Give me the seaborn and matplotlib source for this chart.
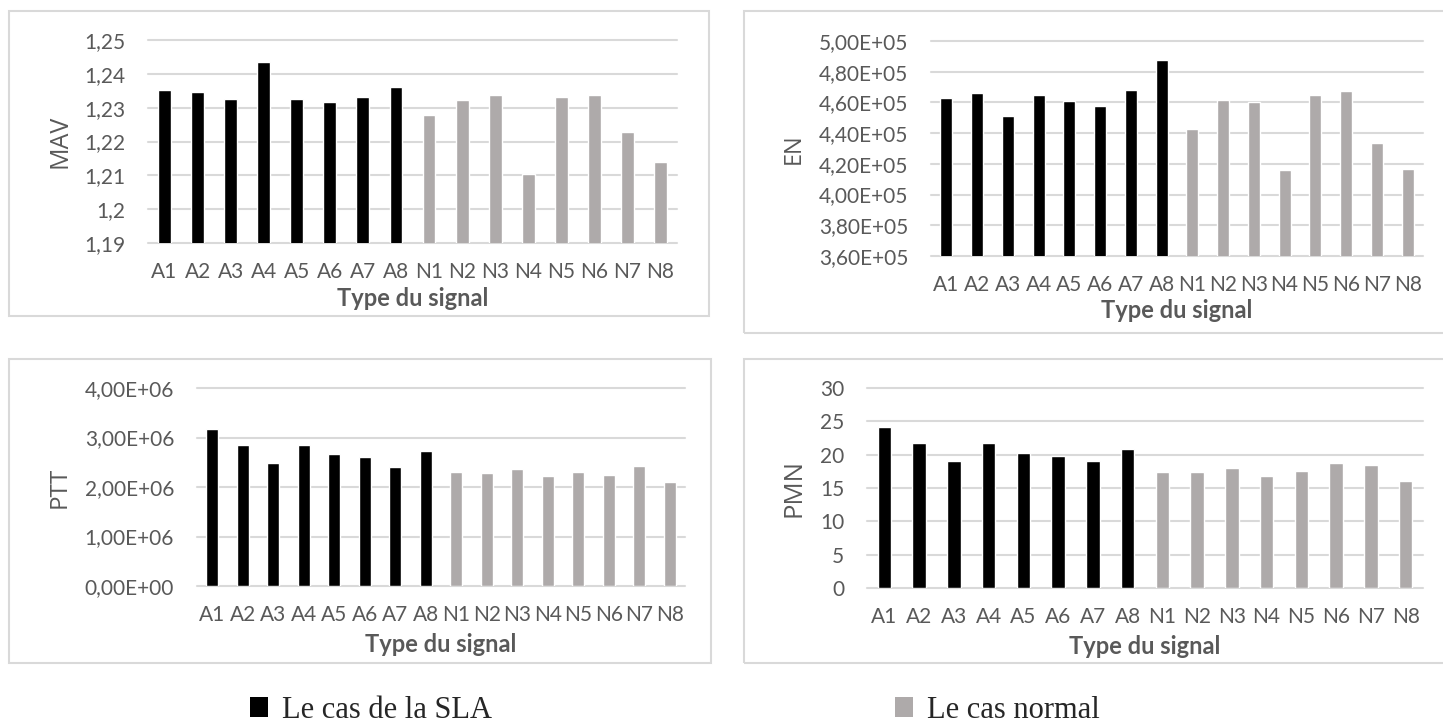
import matplotlib
matplotlib.use("Agg")
import matplotlib.pyplot as plt
from matplotlib.patches import Rectangle, Patch
import seaborn as sns
import pandas as pd

# ---- data -------------------------------------------------------------
signals = ["A1", "A2", "A3", "A4", "A5", "A6", "A7", "A8",
           "N1", "N2", "N3", "N4", "N5", "N6", "N7", "N8"]
groups = ["SLA"] * 8 + ["Normal"] * 8

mav = [1.2351, 1.2346, 1.2327, 1.2434, 1.2327, 1.2316, 1.2333, 1.2360,
       1.2277, 1.2323, 1.2337, 1.2103, 1.2332, 1.2336, 1.2227, 1.2140]
en = [462700, 466400, 451200, 465100, 461000, 457700, 468300, 487800,
      442800, 461800, 460100, 416100, 464700, 467700, 433500, 416800]
ptt = [3.169e6, 2.845e6, 2.486e6, 2.851e6, 2.662e6, 2.601e6, 2.399e6, 2.736e6,
       2.297e6, 2.277e6, 2.365e6, 2.216e6, 2.297e6, 2.236e6, 2.426e6, 2.101e6]
pmn = [24.2, 21.7, 19.0, 21.75, 20.25, 19.85, 19.0, 20.85,
       17.45, 17.35, 18.05, 16.85, 17.5, 18.7, 18.5, 16.05]

mav_ticks = [1.19, 1.20, 1.21, 1.22, 1.23, 1.24, 1.25]
mav_tick_labels = ["1,19", "1,2", "1,21", "1,22", "1,23", "1,24", "1,25"]
en_ticks = [360000, 380000, 400000, 420000, 440000, 460000, 480000, 500000]
en_tick_labels = ["3,60E+05", "3,80E+05", "4,00E+05", "4,20E+05",
                  "4,40E+05", "4,60E+05", "4,80E+05", "5,00E+05"]
ptt_ticks = [0, 1e6, 2e6, 3e6, 4e6]
ptt_tick_labels = ["0,00E+00", "1,00E+06", "2,00E+06", "3,00E+06", "4,00E+06"]
pmn_ticks = [0, 5, 10, 15, 20, 25, 30]
pmn_tick_labels = ["0", "5", "10", "15", "20", "25", "30"]

legend_labels = ["Le cas de la SLA", "Le cas normal"]

# ---- style ------------------------------------------------------------
sns.set_style("white")
plt.rcParams["font.family"] = ["Lato", "DejaVu Sans"]

TEXT = "#595959"
GRID = "#D9D9D9"
palette = {"SLA": "#000000", "Normal": "#AEAAAA"}

W, H = 1443, 727
fig = plt.figure(figsize=(W / 100, H / 100), dpi=100)
fig.patch.set_facecolor("white")


def px_rect(left, top, right, bottom):
    """Pixel box (from top-left origin) -> figure fraction rect."""
    return [left / W, 1 - bottom / H, (right - left) / W, (bottom - top) / H]


# chart frames
for (l, t, r, b) in [(9, 11, 709, 316), (744, 11, 1460, 333),
                     (9, 359, 711, 663), (744, 359, 1460, 663)]:
    fig.add_artist(Rectangle((l / W, 1 - b / H), (r - l) / W, (b - t) / H,
                             transform=fig.transFigure, fill=False,
                             edgecolor=GRID, linewidth=1.5))

panels = [
    # values, ylabel, ylabel size, ticks, labels, axes box, ylabel x offset px
    (mav, "MAV", 18, mav_ticks, mav_tick_labels, (148, 40, 677, 243), -88),
    (en, "EN", 17, en_ticks, en_tick_labels, (931, 41, 1423, 256), -137),
    (ptt, "PTT", 17.5, ptt_ticks, ptt_tick_labels, (197, 388, 685, 586), -137),
    (pmn, "PMN", 18.5, pmn_ticks, pmn_tick_labels, (867, 388, 1423, 588), -73),
]

for values, ylab, ysize, ticks, tlabels, box, yoff in panels:
    l, t, r, b = box
    ax = fig.add_axes(px_rect(l, t, r, b))
    df = pd.DataFrame({"signal": signals, "value": values, "group": groups})
    sns.barplot(data=df, x="signal", y="value", hue="group", palette=palette,
                dodge=False, width=0.39, saturation=1, legend=False, ax=ax)
    ax.set_ylim(ticks[0], ticks[-1])
    ax.set_yticks(ticks)
    ax.set_yticklabels(tlabels)
    ax.set_axisbelow(True)
    ax.yaxis.grid(True, color=GRID, linewidth=1.5)
    for gl in ax.get_ygridlines():
        gl.set_clip_on(False)
    for s in ax.spines.values():
        s.set_visible(False)
    ax.tick_params(axis="both", length=0, labelsize=15, labelcolor=TEXT)
    ax.tick_params(axis="y", pad=16.5)
    ax.tick_params(axis="x", pad=14)

    ax.set_xlabel("Type du signal", fontsize=17, fontweight="bold", color=TEXT)
    ax.xaxis.label.set_va("center")
    ax.xaxis.set_label_coords(0.5, -(55 if t < 300 else 58) / (b - t))

    ax.set_ylabel(ylab, fontsize=ysize, color=TEXT, family=["Open Sans", "DejaVu Sans"])
    ax.yaxis.label.set_va("center")
    ax.yaxis.set_label_coords(yoff / (r - l), 0.5)

# legend entries at the bottom
for lab, key, x in [(legend_labels[0], "SLA", 250), (legend_labels[1], "Normal", 895)]:
    handle = Patch(facecolor=palette[key], edgecolor="none", label=lab)
    fig.legend(handles=[handle], loc="lower left",
               bbox_to_anchor=(x / W, 0.003), frameon=False, borderpad=0,
               borderaxespad=0, handlelength=0.6, handleheight=0.6,
               handletextpad=0.45,
               prop={"family": ["Liberation Serif", "DejaVu Serif"], "size": 22})

fig.savefig("out.png", dpi=100, facecolor="white")
